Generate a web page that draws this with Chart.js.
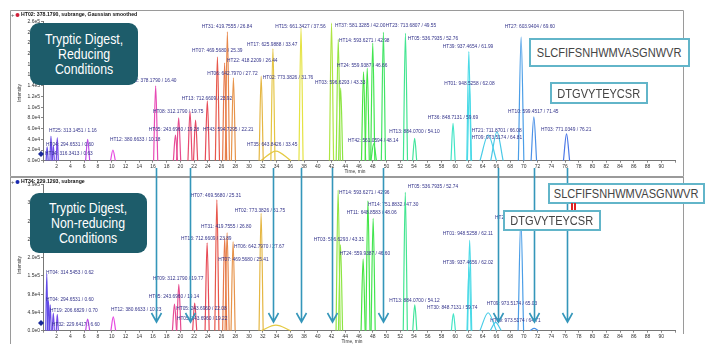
<!DOCTYPE html>
<html>
<head>
<meta charset="utf-8">
<script src="https://cdn.jsdelivr.net/npm/chart.js@4.4.1/dist/chart.umd.min.js"></script>
<style>
body{margin:0;width:705px;height:344px;position:relative;background:#fff;overflow:hidden;font-family:Arial,"Liberation Sans",sans-serif}
canvas{position:absolute;left:0}
#top{top:0}
#bot{top:177px}
#over{top:0;pointer-events:none}
.cond{position:absolute;background:#1d5c6a;border-radius:9px;color:#fff;font-size:14.5px;line-height:15px;text-align:center;display:flex;align-items:center;justify-content:center}
.seq{position:absolute;box-sizing:border-box;background:#fff;border:2px solid #62b5c9;color:#444;font-size:13px;display:flex;align-items:center;justify-content:center;white-space:nowrap}
.sq{display:inline-block;transform:scaleX(.85)}
.red{position:absolute;width:1.5px;background:#e02020;top:203px;height:7px}
</style>
</head>
<body>
<canvas id="top" width="705" height="177"></canvas>
<canvas id="bot" width="705" height="167"></canvas>
<canvas id="over" width="705" height="344"></canvas>

<div class="cond" style="left:30px;top:23px;width:108px;height:62px"><span class="sq">Tryptic Digest,<br>Reducing<br>Conditions</span></div>
<div class="cond" style="left:30px;top:193px;width:117px;height:60px"><span class="sq">Tryptic Digest,<br>Non-reducing<br>Conditions</span></div>
<div class="seq" style="left:529px;top:38px;width:161px;height:29px"><span class="sq">SLCFIFSNHWMVASGNWVR</span></div>
<div class="seq" style="left:550px;top:82px;width:98px;height:22px"><span class="sq">DTGVYTEYCSR</span></div>
<div class="seq" style="left:548px;top:183px;width:157px;height:21px"><span class="sq">SLCFIFSNHWMVASGNWVR</span></div>
<div class="seq" style="left:503px;top:210px;width:98px;height:21px"><span class="sq">DTGVYTEYCSR</span></div>
<div class="red" style="left:571px"></div>
<div class="red" style="left:574px"></div>

<script>
// reducing conditions (top trace): retention time (min), intensity, half width (min)
const topRt = [0.60, 1.16, 1.50, 2.08, 6.5, 10.18, 16.40, 19.28, 19.75, 21.4, 22.21, 23.92, 25.39, 26.44, 26.84, 27.72, 31.76, 33.47, 33.9, 37.56, 42.00, 42.98, 43.33, 46.66, 47.2, 48.0, 48.14, 49.55, 52.76, 54.10, 59.69, 61.99, 62.08, 64.81, 66.08, 69.60, 71.45, 76.21];
const topHeight = [2.6e4, 4.6e4, 2.8e4, 4.3e4, 4.0e4, 2.0e4, 1.40e5, 4.8e4, 8.0e4, 9.2e4, 7.6e4, 1.12e5, 1.94e5, 1.83e5, 2.41e5, 1.55e5, 1.58e5, 2.09e5, 1.8e4, 2.48e5, 2.57e5, 2.27e5, 1.36e5, 1.66e5, 1.73e5, 2.2e5, 3.2e4, 2.40e5, 2.38e5, 4.2e4, 7.0e4, 2.04e5, 1.42e5, 4.8e4, 5.4e4, 2.31e5, 8.2e4, 5.0e4];
const topWidth = [0.15, 0.15, 0.15, 0.15, 0.3, 0.35, 0.3, 0.3, 0.3, 0.3, 0.3, 0.3, 0.3, 0.3, 0.3, 0.3, 0.3, 0.3, 2.2, 0.3, 0.3, 0.3, 0.3, 0.3, 0.3, 0.3, 0.4, 0.3, 0.3, 0.3, 0.3, 0.3, 0.3, 1.2, 0.9, 0.4, 0.4, 0.45];

// non-reducing conditions (bottom trace)
const botRt = [0.55, 0.80, 1.05, 1.50, 2.08, 6.5, 10.23, 19.14, 19.77, 22.08, 23.89, 25.31, 26.45, 26.80, 27.67, 31.75, 33.9, 42.96, 43.31, 46.60, 47.30, 48.06, 52.74, 54.12, 59.74, 62.02, 62.11, 64.8, 65.9, 69.56, 71.5];
const botHeight = [1.52e5, 8.0e4, 6.9e4, 4.7e4, 4.4e4, 3.1e4, 3.7e4, 7.1e4, 1.24e5, 7.4e4, 2.35e5, 3.50e5, 2.48e5, 2.62e5, 2.38e5, 3.14e5, 1.5e4, 3.76e5, 2.3e5, 1.92e5, 3.47e5, 3.0e5, 3.70e5, 6.9e4, 4.6e4, 1.7e5, 2.42e5, 4.8e4, 2.2e4, 3.0e5, 6e3];
const botWidth = [0.15, 0.15, 0.15, 0.15, 0.15, 0.3, 0.35, 0.3, 0.3, 0.3, 0.3, 0.3, 0.3, 0.3, 0.3, 0.3, 2.2, 0.3, 0.3, 0.3, 0.3, 0.3, 0.3, 0.3, 0.3, 0.3, 0.3, 1.2, 0.8, 0.4, 0.6];

// peak annotations
const topLabels = ['HT25: 313.1451 / 1.16', 'HT04: 294.6531 / 0.60', 'HT34: 316.3413 / 0.63', 'HT12: 380.6633 / 10.18', 'HT02: 378.1790 / 16.40', 'HT08: 312.1790 / 19.75', 'HT05: 243.6960 / 19.28', 'HT43: 594.7295 / 22.21', 'HT13: 712.6609 / 23.92', 'HT07: 469.5680 / 25.39', 'HT31: 419.7555 / 26.84', 'HT22: 418.2209 / 26.44', 'HT06: 642.7970 / 27.72', 'HT02: 773.3826 / 31.76', 'HT17: 625.9888 / 33.47', 'HT35: 643.8426 / 33.45', 'HT15: 661.3427 / 37.56', 'HT37: 581.3285 / 42.00', 'HT14: 593.6271 / 42.98', 'HT24: 559.9387 / 46.66', 'HT03: 596.6293 / 43.33', 'HT23: 713.6807 / 49.55', 'HT05: 536.7935 / 52.76', 'HT39: 937.4654 / 61.99', 'HT01: 948.5258 / 62.08', 'HT27: 603.9404 / 69.60', 'HT10: 599.4517 / 71.45', 'HT36: 848.7131 / 59.69', 'HT13: 884.0700 / 54.10', 'HT42: 561.0594 / 48.14', 'HT21: 711.8701 / 66.08', 'HT09: 973.5174 / 64.81', 'HT03: 771.0349 / 76.21'];
const topLabelRt = [0.87, 0.44, 0.29, 9.75, 12.1, 16.0, 15.4, 23.3, 20.2, 21.7, 23.1, 26.8, 23.9, 32.0, 29.7, 29.7, 33.8, 42.5, 43.1, 42.8, 39.6, 49.9, 53.1, 58.2, 58.4, 67.2, 67.7, 56.0, 50.4, 44.4, 62.4, 62.4, 72.5];
const topLabelInt = [5.36e4, 2.75e4, 1.07e4, 3.68e4, 1.47e5, 8.9e4, 5.55e4, 5.55e4, 1.13e5, 2.03e5, 2.48e5, 1.84e5, 1.60e5, 1.53e5, 2.14e5, 2.75e4, 2.48e5, 2.50e5, 2.22e5, 1.75e5, 1.43e5, 2.50e5, 2.26e5, 2.11e5, 1.41e5, 2.48e5, 8.9e4, 7.8e4, 5.2e4, 3.5e4, 5.4e4, 4.06e4, 5.55e4];

const botLabels = ['HT04: 314.5453 / 0.62', 'HT04: 294.6531 / 0.60', 'HT19: 206.6829 / 0.70', 'HT32: 229.6417 / 6.60', 'HT12: 380.6633 / 10.23', 'HT05: 243.6960 / 19.14', 'HT09: 312.1790 / 19.77', 'HT05: 243.6960 / 22.08', 'HT05: 243.6960 / 19.22', 'HT13: 712.6609 / 23.89', 'HT07: 469.5680 / 25.31', 'HT31: 419.7555 / 26.80', 'HT06: 642.7970 / 27.67', 'HT07: 469.5680 / 25.41', 'HT02: 773.3826 / 31.75', 'HT03: 596.6293 / 43.31', 'HT14: 593.6271 / 42.96', 'HT11: 648.8583 / 48.06', 'HT24: 559.9387 / 46.60', 'HT14: 751.8832 / 47.30', 'HT05: 536.7935 / 52.74', 'HT01: 948.5258 / 62.11', 'HT39: 937.4656 / 62.02', 'HT13: 884.0700 / 54.12', 'HT30: 848.7131 / 59.74', 'HT09: 973.5174 / 65.03', 'HT09: 973.5174 / 64.71', 'HT27: 603.9404 / 69.56'];
const botLabelRt = [0.44, 0.44, 1.02, 1.31, 9.9, 15.4, 16.0, 19.4, 19.5, 20.1, 21.5, 23.0, 27.8, 25.5, 27.9, 39.4, 43.1, 44.2, 43.2, 47.3, 53.1, 58.2, 58.2, 50.4, 55.9, 64.6, 65.1, 65.8];
const botLabelInt = [1.52e5, 7.9e4, 5.0e4, 1.26e4, 5.27e4, 8.7e4, 1.36e5, 5.5e4, 2.86e4, 2.43e5, 3.58e5, 2.75e5, 2.21e5, 1.86e5, 3.17e5, 2.40e5, 3.66e5, 3.12e5, 2.02e5, 3.33e5, 3.82e5, 2.56e5, 1.78e5, 7.7e4, 5.8e4, 6.9e4, 2.3e4, 2.99e5];

// peaks lost under non-reducing conditions
const arrowRt = [16.40, 21.4, 33.47, 37.56, 42.00, 49.55, 66.3, 71.45, 76.21];

// colour of a trace follows its retention time
const hueStops = [[0,245],[3,262],[7,288],[11,305],[17,320],[20,335],[22,350],[25,360],[27,385],[30,397],[34,410],[38,420],[42,440],[45,470],[50,495],[53,510],[60,530],[62,545],[66,552],[70,570],[77,585]];
function rtColor(t) {
    let h = hueStops[hueStops.length - 1][1];
    for (let i = 0; i < hueStops.length - 1; i++) {
        let a = hueStops[i], b = hueStops[i + 1];
        if (t >= a[0] && t <= b[0]) {
            h = a[1] + (b[1] - a[1]) * (t - a[0]) / (b[0] - a[0]);
            break;
        }
    }
    h = h % 360;
    let light = (h > 40 && h < 170) ? 58 : 60;
    return 'hsl(' + h.toFixed(0) + ',76%,' + light + '%)';
}

function peakSets(rt, height, width) {
    return rt.map(function(t, i) {
        return {
            data: [{x: t - width[i], y: 0}, {x: t, y: height[i]}, {x: t + width[i], y: 0}],
            borderColor: rtColor(t),
            borderWidth: 1.2,
            pointRadius: 0,
            fill: false,
            cubicInterpolationMode: 'monotone'
        };
    });
}

const peakLabels = {
    id: 'peakLabels',
    afterDatasetsDraw(chart, args, opts) {
        const ctx = chart.ctx, x = chart.scales.x, y = chart.scales.y;
        ctx.save();
        ctx.font = '4.8px Arial';
        ctx.fillStyle = '#33338a';
        opts.text.forEach(function(s, i) {
            ctx.fillText(s, x.getPixelForValue(opts.rt[i]), y.getPixelForValue(opts.int[i]));
        });
        ctx.restore();
    }
};

const panel = {
    id: 'panel',
    afterDraw(chart, args, o) {
        const ctx = chart.ctx;
        ctx.save();
        ctx.strokeStyle = '#9a9a9a';
        ctx.lineWidth = 1;
        ctx.beginPath();
        if (o.closed) {
            ctx.rect(10.5, 10.5, 673, 166);
        } else {
            ctx.moveTo(10.5, 0.5); ctx.lineTo(683.5, 0.5);
            ctx.moveTo(10.5, 0); ctx.lineTo(10.5, 167);
            ctx.moveTo(683.5, 0); ctx.lineTo(683.5, 157);
        }
        ctx.stroke();
        // header
        ctx.fillStyle = '#555';
        ctx.font = '6px Arial';
        ctx.textBaseline = 'middle';
        ctx.fillText('+', 11, o.headY);
        ctx.fillStyle = o.dot;
        ctx.beginPath(); ctx.arc(17.5, o.headY, 2, 0, Math.PI * 2); ctx.fill();
        ctx.fillStyle = '#111';
        ctx.font = 'bold 5.2px Arial';
        ctx.fillText(o.title, 21, o.headY);
        // axis titles
        ctx.font = '4.8px Arial';
        ctx.fillStyle = '#333';
        ctx.textAlign = 'center';
        ctx.fillText('Time, min', o.timeX, o.timeY);
        ctx.translate(20, o.intY);
        ctx.rotate(-Math.PI / 2);
        ctx.fillText('Intensity', 0, 0);
        ctx.restore();
        // cursor marker
        ctx.save();
        ctx.fillStyle = '#1a2a9a';
        ctx.beginPath();
        ctx.moveTo(41, o.markY - 3); ctx.lineTo(44, o.markY); ctx.lineTo(41, o.markY + 3); ctx.lineTo(38, o.markY);
        ctx.closePath(); ctx.fill();
        ctx.restore();
    }
};

function expLabel(v) {
    return Number(v).toExponential(1).replace('+', '');
}

function makeChart(id, sets, yMax, yStep, padTop, xHeight, labelOpts, panelOpts) {
    return new Chart(document.getElementById(id), {
        type: 'line',
        data: {datasets: sets},
        plugins: [peakLabels, panel],
        options: {
            responsive: false,
            animation: false,
            layout: {padding: {left: 10, right: 30, top: padTop, bottom: 0}},
            plugins: {
                legend: {display: false},
                tooltip: {enabled: false},
                peakLabels: labelOpts,
                panel: panelOpts
            },
            scales: {
                x: {
                    type: 'linear', min: 0, max: 92,
                    afterFit: function(s) { s.height = xHeight; },
                    grid: {drawOnChartArea: false, tickLength: 2, color: '#888'},
                    border: {color: '#777'},
                    ticks: {
                        stepSize: 2, autoSkip: false, maxRotation: 0, padding: 1,
                        color: '#333', font: {size: 5, family: 'Arial'},
                        callback: function(v) { return (v > 0 && v <= 90) ? v : ''; }
                    }
                },
                y: {
                    min: 0, max: yMax,
                    afterFit: function(s) { s.width = 33; },
                    grid: {drawOnChartArea: false, tickLength: 2, color: '#888'},
                    border: {color: '#777'},
                    ticks: {
                        stepSize: yStep, autoSkip: false, includeBounds: false, padding: 1,
                        color: '#333', font: {size: 5, family: 'Arial'},
                        callback: expLabel
                    }
                }
            }
        }
    });
}

const topChart = makeChart('top', peakSets(topRt, topHeight, topWidth), 2.6e5, 2e4, 21.6, 16.3,
    {text: topLabels, rt: topLabelRt, int: topLabelInt},
    {closed: true, title: 'HT02: 378.1790, subrange, Gaussian smoothed', dot: '#d0203a', headY: 15, timeX: 355, timeY: 172, intY: 93, markY: 154});

const botChart = makeChart('bot', peakSets(botRt, botHeight, botWidth), 3.9e5, 5e4, 7.8, 13.3,
    {text: botLabels, rt: botLabelRt, int: botLabelInt},
    {closed: false, title: 'HT34: 229.1293, subrange', dot: '#1a2ab0', headY: 5, timeX: 352, timeY: 164.5, intY: 88, markY: 146});

// arrows from the reducing trace down to the non-reducing one
const over = document.getElementById('over').getContext('2d');
over.strokeStyle = '#3496ba';
over.lineWidth = 1.6;
arrowRt.forEach(function(t) {
    let px = Math.round(botChart.scales.x.getPixelForValue(t)) + 0.5;
    over.beginPath();
    over.moveTo(px, 168);
    over.lineTo(px, 322);
    over.moveTo(px - 5, 313);
    over.lineTo(px, 322);
    over.lineTo(px + 5, 313);
    over.stroke();
});
</script>
</body>
</html>
